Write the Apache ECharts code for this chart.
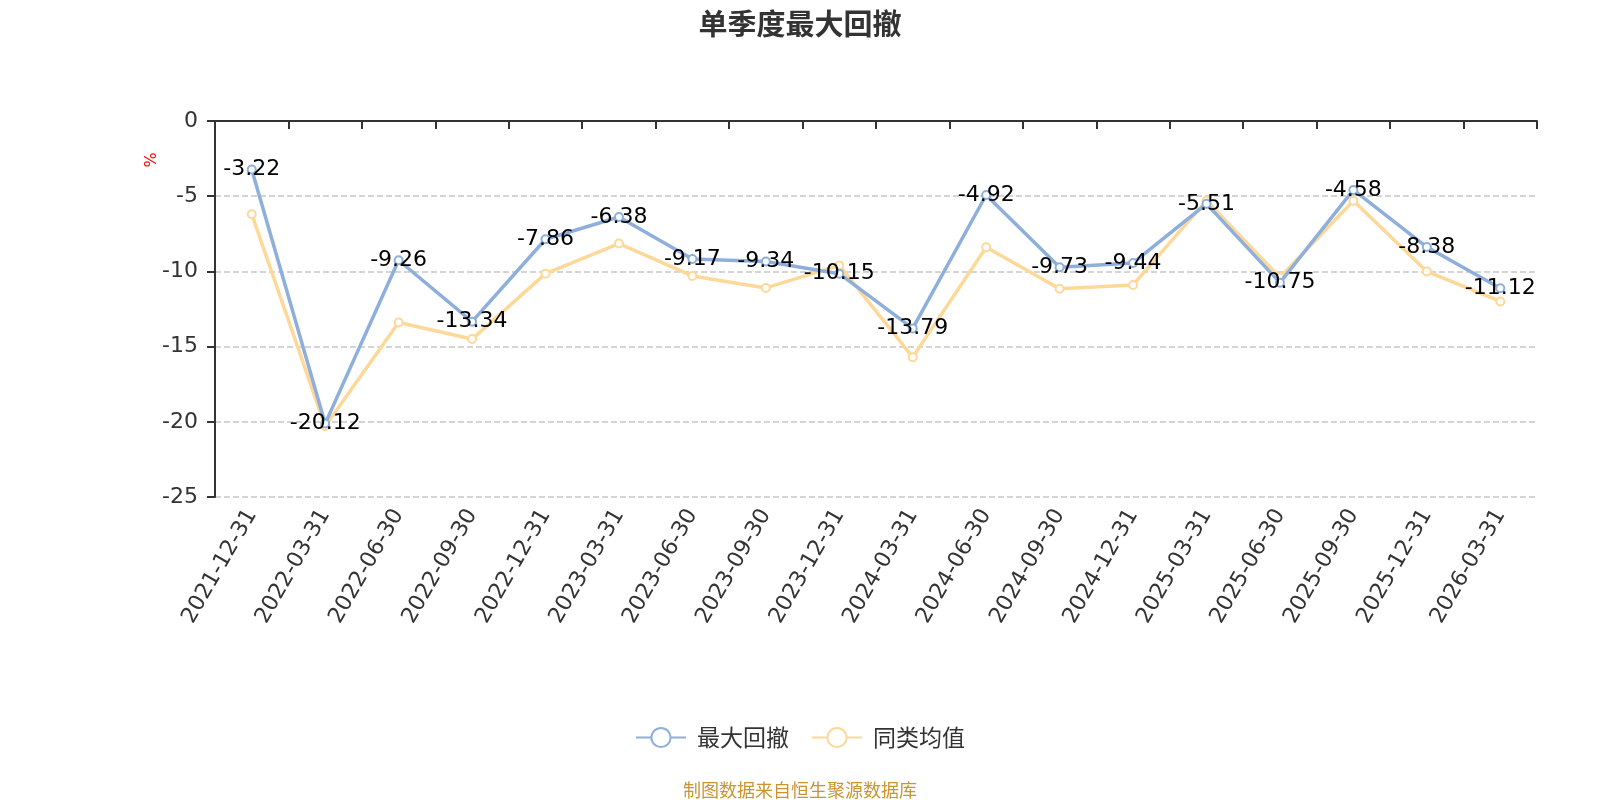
<!DOCTYPE html>
<html>
<head>
<meta charset="utf-8">
<title>单季度最大回撤</title>
<script src="https://cdn.jsdelivr.net/npm/echarts@6/dist/echarts.min.js"></script>
<style>
  html, body { margin: 0; padding: 0; background: #fff; }
  #main { width: 1600px; height: 800px; }
</style>
</head>
<body>
<div id="main"></div>
<script>
// 季度末日期
var dates = ['2021-12-31', '2022-03-31', '2022-06-30', '2022-09-30', '2022-12-31', '2023-03-31',
  '2023-06-30', '2023-09-30', '2023-12-31', '2024-03-31', '2024-06-30', '2024-09-30',
  '2024-12-31', '2025-03-31', '2025-06-30', '2025-09-30', '2025-12-31', '2026-03-31'];
// 本基金最大回撤(%)
var maxDrawdown = [-3.22, -20.12, -9.26, -13.34, -7.86, -6.38, -9.17, -9.34, -10.15,
  -13.79, -4.92, -9.73, -9.44, -5.51, -10.75, -4.58, -8.38, -11.12];
// 同类均值(%)
var peerAvg = [-6.2, -20.3, -13.4, -14.5, -10.15, -8.15, -10.3, -11.1, -9.6,
  -15.7, -8.4, -11.15, -10.9, -5.3, -10.4, -5.3, -10.0, -12.0];
var legendNames = ['最大回撤', '同类均值'];

var FONT = '"DejaVu Sans", "Noto Sans CJK SC", sans-serif';
var CJK = '"Noto Sans CJK SC", sans-serif';
var myChart = echarts.init(document.getElementById('main'));

var option = {
  textStyle: { fontFamily: FONT },
  color: ['#8eafdc', '#fed898'],
  title: [
    {
      text: '单季度最大回撤',
      left: 'center',
      top: 4,
      textStyle: { fontSize: 29, fontWeight: 'bold', color: '#333', fontFamily: CJK }
    },
    {
      text: '制图数据来自恒生聚源数据库',
      left: 'center',
      top: 776,
      textStyle: { fontSize: 18, fontWeight: 'normal', color: '#c9952f', fontFamily: CJK }
    }
  ],
  legend: {
    data: legendNames,
    top: 721,
    left: 'center',
    itemWidth: 50,
    itemHeight: 24,
    itemGap: 22,
    textStyle: { fontSize: 23, color: '#333', fontFamily: CJK, padding: [0, 0, 0, 6] }
  },
  grid: {
    left: 215,
    right: 63,
    top: 121,
    bottom: 303
  },
  xAxis: [
    {
      type: 'category',
      data: dates,
      position: 'bottom',
      axisLine: { show: false, onZero: false },
      axisTick: { show: false },
      axisLabel: { rotate: 60, fontSize: 22, color: '#333', margin: 14, interval: 0 }
    },
    {
      type: 'category',
      data: dates,
      position: 'top',
      axisLine: { show: true, onZero: false, lineStyle: { color: '#333', width: 2 } },
      axisTick: { show: true, inside: true, interval: 0, length: 8, lineStyle: { color: '#333', width: 2 } },
      axisLabel: { show: false }
    }
  ],
  yAxis: {
    type: 'value',
    min: -25,
    max: 0,
    interval: 5,
    axisLine: { show: true, lineStyle: { color: '#333', width: 2 } },
    axisTick: { show: true, length: 8, lineStyle: { color: '#333', width: 2 } },
    axisLabel: { fontSize: 22, color: '#333', margin: 17 },
    splitLine: { lineStyle: { type: 'dashed', color: '#c8c8c8', width: 1.5 } }
  },
  graphic: [
    {
      type: 'text',
      x: 152,
      y: 160,
      rotation: Math.PI / 2,
      style: { text: '%', fill: '#ff0000', font: '16px ' + FONT, align: 'center', verticalAlign: 'middle' }
    }
  ],
  series: [
    {
      name: legendNames[0],
      type: 'line',
      data: maxDrawdown,
      z: 3,
      symbol: 'emptyCircle',
      symbolSize: 8,
      lineStyle: { width: 3.5 },
      label: { show: true, position: 'inside', fontSize: 22, color: '#000' }
    },
    {
      name: legendNames[1],
      type: 'line',
      data: peerAvg,
      z: 2,
      symbol: 'emptyCircle',
      symbolSize: 8,
      lineStyle: { width: 3.5 }
    }
  ]
};
myChart.setOption(option, true);
</script>
</body>
</html>
